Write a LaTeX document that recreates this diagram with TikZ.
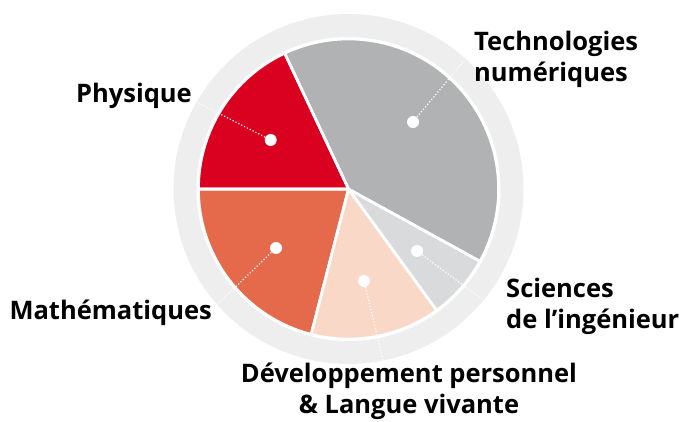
\documentclass[tikz,border=0pt]{standalone}
\usepackage{fontspec}
\setmainfont{Open Sans}[BoldFont={Open Sans Bold}]
\definecolor{ring}{HTML}{EEEEEE}
\definecolor{cPhys}{HTML}{DA0020}
\definecolor{cTech}{HTML}{B1B2B4}
\definecolor{cMath}{HTML}{E5694B}
\definecolor{cDev}{HTML}{F9D8C8}
\definecolor{cSI}{HTML}{D9DADC}
\begin{document}
\begin{tikzpicture}[x=1pt,y=1pt,
  slice/.style={draw=white,line width=2.6pt,line join=round},
  lbl/.style={font=\fontsize{25.5}{31}\selectfont\bfseries,inner sep=0pt,text=black},
  dotmark/.style={circle,fill=white,inner sep=0pt,minimum size=12pt},
  leader/.style={white,line width=1.2pt,dotted}]
\useasboundingbox (0,0) rectangle (683,421);
\coordinate (C) at (348.5,232);
% outer ring
\fill[ring] (C) circle[radius=175];
\fill[white] (C) circle[radius=152];
% slices
\fill[slice,fill=cMath] (C) -- ++(180:150) arc[start angle=180,end angle=255.6,radius=150] -- cycle;
\fill[slice,fill=cDev] (C) -- ++(255.6:150) arc[start angle=255.6,end angle=306,radius=150] -- cycle;
\fill[slice,fill=cSI] (C) -- ++(306:150) arc[start angle=306,end angle=331.2,radius=150] -- cycle;
\fill[slice,fill=cTech] (C) -- ++(-28.8:150) arc[start angle=-28.8,end angle=115.2,radius=150] -- cycle;
\fill[slice,fill=cPhys] (C) -- ++(115.2:150) arc[start angle=115.2,end angle=180,radius=150] -- cycle;
\draw[slice] (C) -- ++(180:150) (C) -- ++(255.6:150) (C) -- ++(306:150) (C) -- ++(331.2:150) (C) -- ++(115.2:150);
% dots
\node[dotmark] (dPhys) at (270.7,281) {};
\node[dotmark] (dTech) at (413,299) {};
\node[dotmark] (dSI) at (417,170) {};
\node[dotmark] (dDev) at (364,140) {};
\node[dotmark] (dMath) at (276,173) {};
% leader ends
\coordinate (ePhys) at (198,318.3);
\coordinate (eTech) at (463,359.3);
\coordinate (eSI) at (481.7,122);
\coordinate (eDev) at (383,61);
\coordinate (eMath) at (216.7,116);
\draw[leader] (dPhys.center) -- (ePhys);
\draw[leader] (dTech.center) -- (eTech);
\draw[leader] (dSI.center) -- (eSI);
\draw[leader] (dDev.center) -- (eDev);
\draw[leader] (dMath.center) -- (eMath);
% labels
\node[lbl,anchor=base east] (tPhys) at (192,318) {Physique};
\node[lbl,anchor=base east] (tMath) at (212,102) {Mathématiques};
\node[lbl,anchor=base west,align=left] (tTech) at (474,339) {Technologies\\numériques};
\node[lbl,anchor=base west,align=left] (tSI) at (506,93) {Sciences\\de l’ingénieur};
\node[lbl,anchor=base,align=center] (tDev) at (409,8) {Développement personnel\\\& Langue vivante};
\end{tikzpicture}
\end{document}
